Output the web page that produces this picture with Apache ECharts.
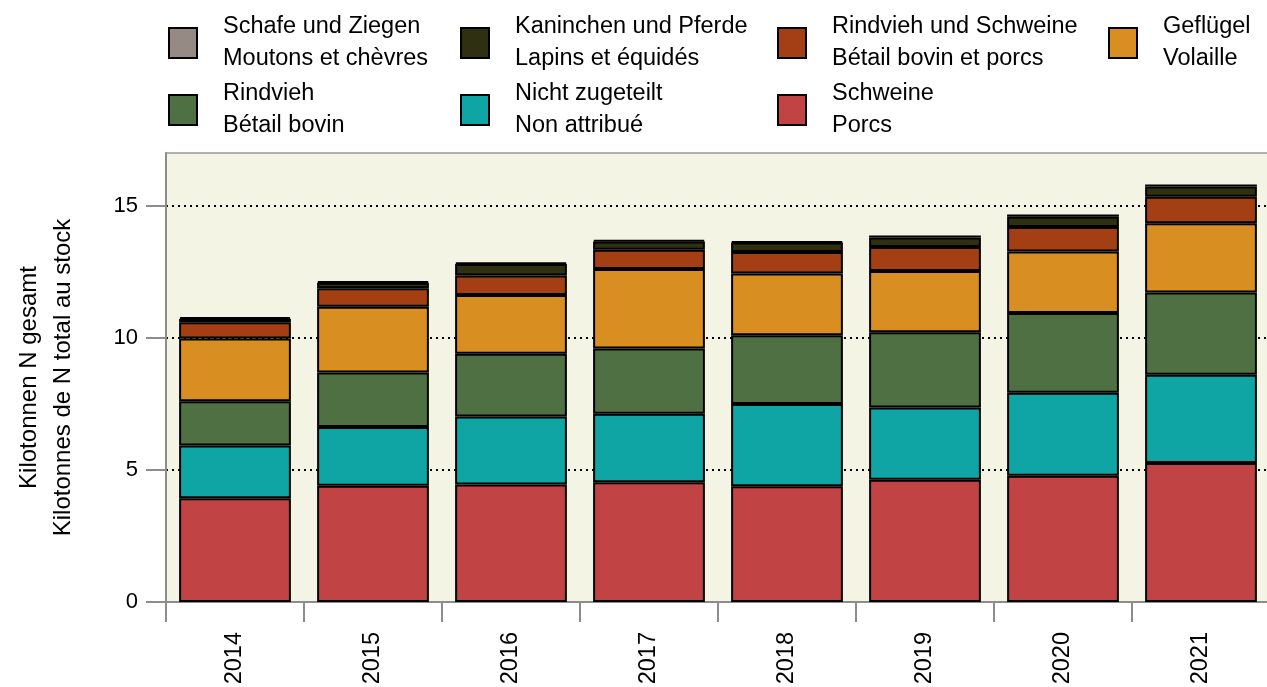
<!DOCTYPE html>
<html>
<head>
<meta charset="utf-8">
<script src="https://cdn.jsdelivr.net/npm/echarts@6/dist/echarts.min.js"></script>
<style>
  html, body { margin: 0; padding: 0; background: #fff; }
  #main { width: 1267px; height: 687px; }
</style>
</head>
<body>
<div id="main"></div>
<script>
// Jahre / années
const years = ['2014', '2015', '2016', '2017', '2018', '2019', '2020', '2021'];

// Kilotonnen N, von unten nach oben gestapelt
const schweine = [3.93, 4.40, 4.45, 4.53, 4.38, 4.63, 4.78, 5.26];
const nichtZugeteilt = [2.00, 2.23, 2.57, 2.60, 3.12, 2.73, 3.14, 3.34];
const rindvieh = [1.67, 2.06, 2.38, 2.47, 2.60, 2.85, 3.02, 3.12];
const gefluegel = [2.38, 2.49, 2.22, 3.01, 2.34, 2.32, 2.33, 2.62];
const rindviehSchweine = [0.61, 0.70, 0.74, 0.73, 0.81, 0.91, 0.93, 1.00];
const kaninchenPferde = [0.13, 0.21, 0.44, 0.31, 0.36, 0.36, 0.39, 0.39];
const schafeZiegen = [0.07, 0.05, 0.05, 0.05, 0.05, 0.08, 0.08, 0.08];

const yTicks = [0, 5, 10, 15];

// name, französisch, farbe, daten
const groups = [
  ['Schweine', 'Porcs', '#c24343', schweine],
  ['Nicht zugeteilt', 'Non attribué', '#10a5a5', nichtZugeteilt],
  ['Rindvieh', 'Bétail bovin', '#4f7043', rindvieh],
  ['Geflügel', 'Volaille', '#d98e22', gefluegel],
  ['Rindvieh und Schweine', 'Bétail bovin et porcs', '#a33f12', rindviehSchweine],
  ['Kaninchen und Pferde', 'Lapins et équidés', '#2f2f12', kaninchenPferde],
  ['Schafe und Ziegen', 'Moutons et chèvres', '#968b84', schafeZiegen]
];
const french = {};
groups.forEach(g => { french[g[0]] = g[1]; });

// legende: [name, left, top]
const legendPos = [
  ['Schafe und Ziegen', 168, 11],
  ['Kaninchen und Pferde', 460, 11],
  ['Rindvieh und Schweine', 777, 11],
  ['Geflügel', 1108, 11],
  ['Rindvieh', 168, 78],
  ['Nicht zugeteilt', 460, 78],
  ['Schweine', 777, 78]
];

const font = 'Liberation Sans, Arial, sans-serif';
const gray = '#8c8c8c';

const chart = echarts.init(document.getElementById('main'));
chart.setOption({
  animation: false,
  textStyle: { fontFamily: font, color: '#000' },
  legend: legendPos.map(p => ({
    data: [p[0]],
    left: p[1],
    top: p[2],
    padding: 0,
    itemWidth: 28,
    itemHeight: 30,
    selectedMode: false,
    icon: 'rect',
    itemStyle: { borderColor: '#000', borderWidth: 2 },
    formatter: name => name + '\n' + french[name],
    textStyle: { fontFamily: font, fontSize: 23.5, lineHeight: 32, color: '#000', padding: [0, 0, 0, 21] }
  })),
  grid: {
    left: 166,
    top: 153,
    right: -3,
    bottom: 85,
    outerBoundsMode: 'none',
    containLabel: false,
    show: true,
    backgroundColor: '#f3f4e4',
    borderColor: '#999',
    borderWidth: 1.5
  },
  xAxis: {
    type: 'category',
    data: years,
    axisLine: { lineStyle: { color: gray, width: 2 } },
    axisTick: { show: true, length: 20, lineStyle: { color: gray, width: 2 } },
    axisLabel: { rotate: 90, fontSize: 23.5, color: '#000', margin: 30, fontFamily: font }
  },
  yAxis: {
    type: 'value',
    min: 0,
    max: 17,
    interval: 5,
    name: 'Kilotonnen N gesamt\nKilotonnes de N total au stock',
    nameLocation: 'middle',
    nameGap: 86,
    nameRotate: 90,
    nameTextStyle: { fontSize: 24, lineHeight: 34, color: '#000', fontFamily: font },
    axisLine: { show: true, lineStyle: { color: gray, width: 2 } },
    axisTick: { show: true, length: 20, customValues: yTicks, lineStyle: { color: gray, width: 2 } },
    axisLabel: { fontSize: 22, color: '#000', margin: 28, customValues: yTicks, fontFamily: font },
    splitLine: {
      show: true,
      showMinLine: false,
      showMaxLine: true,
      lineStyle: { color: '#000', width: 2, type: [2, 4] }
    }
  },
  series: groups.map(g => ({
    name: g[0],
    type: 'bar',
    stack: 'total',
    data: g[3],
    barCategoryGap: '19%',
    itemStyle: { color: g[2], borderColor: '#000', borderWidth: 2 }
  }))
});
</script>
</body>
</html>
